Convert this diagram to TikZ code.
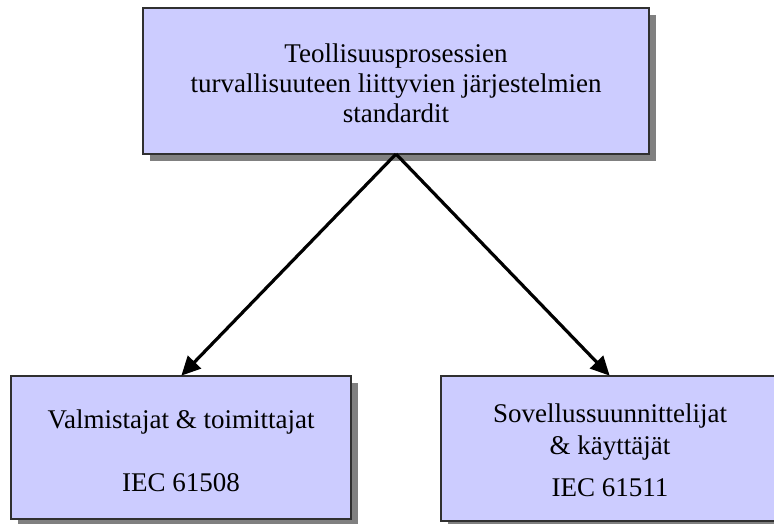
\documentclass[tikz,border=0pt]{standalone}
\usepackage{fontspec}
\setmainfont{Liberation Serif}
\usetikzlibrary{arrows.meta,shadows}
\definecolor{boxfill}{HTML}{CCCCFF}
\definecolor{shadowgray}{HTML}{808080}
\definecolor{edgegray}{HTML}{303030}
\begin{document}
\begin{tikzpicture}[x=1pt,y=-1pt,
  stdbox/.style={draw=edgegray, line width=1.2pt, fill=boxfill, rectangle,
    inner sep=0pt, outer sep=0pt,
    drop shadow={shadow xshift=7pt, shadow yshift=-7pt, fill=shadowgray, opacity=1}},
  label/.style={font=\fontsize{27}{30}\selectfont, align=center, inner sep=0pt},
  link/.style={line width=3.2pt, -{Triangle[length=19pt,width=18pt]}, shorten >=0.5pt}]
\useasboundingbox (0,0) rectangle (774,523);

% top-level standards box
\node[stdbox, minimum width=506pt, minimum height=146pt] (top) at (396,81) {};
\node[label] (toptext) at (396,83) {Teollisuusprosessien\\turvallisuuteen liittyvien järjestelmien\\standardit};

% manufacturers & suppliers
\node[stdbox, minimum width=340pt, minimum height=143pt] (left) at (181,447.5) {};
\node[label] (lefta) at (181,422) {Valmistajat \& toimittajat};
\node[label] (leftb) at (181,483) {IEC 61508};

% designers & users
\node[stdbox, minimum width=346pt, minimum height=145pt] (right) at (614,448.5) {};
\node[label] (righta) at (610,416) {Sovellussuunnittelijat};
\node[label] (rightb) at (610,448) {\& käyttäjät};
\node[label] (rightc) at (610,488) {IEC 61511};

% connectors
\draw[link] (top.south) -- ([xshift=-4pt]right.north);
\draw[link] (top.south) -- (left.north);
\end{tikzpicture}
\end{document}
